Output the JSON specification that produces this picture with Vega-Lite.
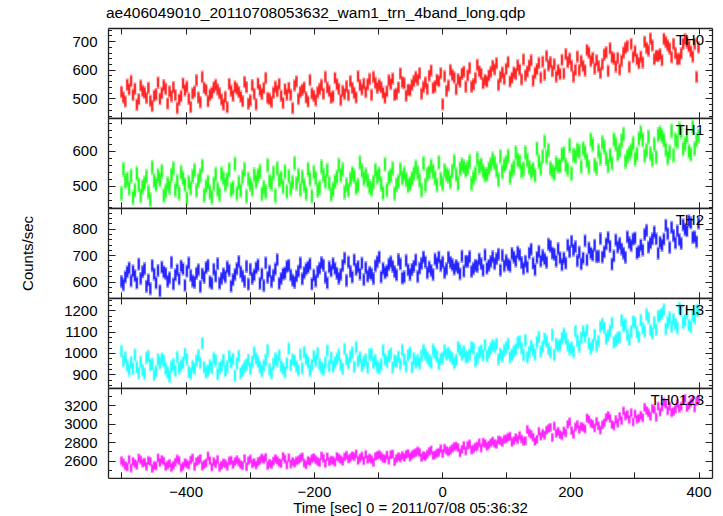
{
"$schema": "https://vega.github.io/schema/vega-lite/v6.json",
"padding": {"left": 20, "top": 6, "right": 5, "bottom": 0},
"spacing": 0,
"bounds": "flush",
"title": {"text": "ae406049010_20110708053632_wam1_trn_4band_long.qdp", "anchor": "start", "fontSize": 15.5, "fontWeight": "normal", "font": "Liberation Sans", "color": "#000", "offset": -11, "baseline": "alphabetic", "dx": 85},
"config": {
  "font": "Liberation Sans",
  "view": {"stroke": null},
  "axis": {"domainColor": "#222", "domainWidth": 1.3, "tickColor": "#222", "tickWidth": 1, "grid": false, "labelFont": "Liberation Sans", "labelFontSize": 15, "labelColor": "#000", "titleFont": "Liberation Sans", "titleFontSize": 15, "titleFontWeight": "normal", "titleColor": "#000", "labelOverlap": false, "labelFlush": false, "labelBound": false},
  "text": {"font": "Liberation Sans", "fontSize": 15, "color": "#000", "align": "right", "baseline": "alphabetic"}
},
"data": {"values": [
{"t":-500,"a":522,"b":478,"c":601,"d":1008,"e":2598},
{"t":-497,"a":503,"b":547,"c":589,"d":962,"e":2575},
{"t":-494,"a":489,"b":511,"c":618,"d":979,"e":2544},
{"t":-491,"a":548,"b":519,"c":637,"d":941,"e":2531},
{"t":-488,"a":531,"b":492,"c":652,"d":918,"e":2612},
{"t":-485,"a":561,"b":528,"c":604,"d":955,"e":2519},
{"t":-482,"a":512,"b":466,"c":641,"d":927,"e":2590},
{"t":-479,"a":534,"b":487,"c":623,"d":991,"e":2568},
{"t":-476,"a":478,"b":535,"c":596,"d":933,"e":2549},
{"t":-473,"a":497,"b":503,"c":666,"d":904,"e":2627},
{"t":-470,"a":545,"b":471,"c":612,"d":958,"e":2606},
{"t":-467,"a":526,"b":497,"c":638,"d":919,"e":2572},
{"t":-464,"a":520,"b":508,"c":649,"d":902,"e":2583},
{"t":-461,"a":501,"b":526,"c":583,"d":977,"e":2537},
{"t":-458,"a":537,"b":482,"c":607,"d":986,"e":2601},
{"t":-455,"a":492,"b":460,"c":574,"d":943,"e":2589},
{"t":-452,"a":473,"b":552,"c":661,"d":948,"e":2515},
{"t":-449,"a":509,"b":514,"c":629,"d":897,"e":2547},
{"t":-446,"a":514,"b":503,"c":596,"d":914,"e":2542},
{"t":-443,"a":555,"b":529,"c":642,"d":969,"e":2628},
{"t":-440,"a":498,"b":517,"c":566,"d":951,"e":2578},
{"t":-437,"a":519,"b":541,"c":655,"d":972,"e":2611},
{"t":-434,"a":546,"b":472,"c":637,"d":961,"e":2594},
{"t":-431,"a":533,"b":485,"c":631,"d":925,"e":2536},
{"t":-428,"a":482,"b":506,"c":602,"d":908,"e":2553},
{"t":-425,"a":524,"b":495,"c":615,"d":889,"e":2569},
{"t":-422,"a":507,"b":530,"c":673,"d":934,"e":2525},
{"t":-419,"a":539,"b":549,"c":592,"d":947,"e":2548},
{"t":-416,"a":511,"b":488,"c":626,"d":916,"e":2583},
{"t":-413,"a":466,"b":512,"c":644,"d":980,"e":2617},
{"t":-410,"a":495,"b":479,"c":611,"d":928,"e":2598},
{"t":-407,"a":508,"b":538,"c":659,"d":941,"e":2521},
{"t":-404,"a":552,"b":521,"c":648,"d":955,"e":2540},
{"t":-401,"a":528,"b":503,"c":587,"d":996,"e":2576},
{"t":-398,"a":541,"b":464,"c":640,"d":970,"e":2562},
{"t":-395,"a":499,"b":509,"c":671,"d":912,"e":2551},
{"t":-392,"a":470,"b":493,"c":624,"d":903,"e":2605},
{"t":-389,"a":517,"b":527,"c":603,"d":937,"e":2629},
{"t":-386,"a":524,"b":544,"c":598,"d":925,"e":2536},
{"t":-383,"a":563,"b":486,"c":632,"d":963,"e":2588},
{"t":-380,"a":503,"b":515,"c":645,"d":988,"e":2603},
{"t":-377,"a":486,"b":529,"c":582,"d":953,"e":2621},
{"t":-374,"a":575,"b":556,"c":629,"d":1045,"e":2541},
{"t":-371,"a":537,"b":473,"c":617,"d":932,"e":2559},
{"t":-368,"a":529,"b":498,"c":653,"d":909,"e":2574},
{"t":-365,"a":490,"b":510,"c":662,"d":917,"e":2650},
{"t":-362,"a":512,"b":481,"c":600,"d":941,"e":2597},
{"t":-359,"a":520,"b":467,"c":594,"d":928,"e":2531},
{"t":-356,"a":538,"b":505,"c":647,"d":975,"e":2587},
{"t":-353,"a":547,"b":533,"c":621,"d":964,"e":2566},
{"t":-350,"a":531,"b":490,"c":668,"d":901,"e":2611},
{"t":-347,"a":518,"b":475,"c":595,"d":929,"e":2527},
{"t":-344,"a":496,"b":534,"c":612,"d":939,"e":2548},
{"t":-341,"a":478,"b":521,"c":630,"d":966,"e":2573},
{"t":-338,"a":505,"b":503,"c":619,"d":915,"e":2565},
{"t":-335,"a":469,"b":517,"c":656,"d":936,"e":2539},
{"t":-332,"a":550,"b":546,"c":643,"d":984,"e":2596},
{"t":-329,"a":527,"b":488,"c":584,"d":957,"e":2604},
{"t":-326,"a":509,"b":494,"c":608,"d":971,"e":2556},
{"t":-323,"a":541,"b":562,"c":627,"d":893,"e":2588},
{"t":-320,"a":533,"b":478,"c":649,"d":950,"e":2610},
{"t":-317,"a":522,"b":509,"c":676,"d":986,"e":2583},
{"t":-314,"a":506,"b":486,"c":637,"d":905,"e":2558},
{"t":-311,"a":490,"b":525,"c":621,"d":918,"e":2545},
{"t":-308,"a":557,"b":547,"c":602,"d":934,"e":2621},
{"t":-305,"a":539,"b":470,"c":658,"d":945,"e":2534},
{"t":-302,"a":481,"b":519,"c":591,"d":967,"e":2597},
{"t":-299,"a":493,"b":504,"c":647,"d":926,"e":2618},
{"t":-296,"a":546,"b":490,"c":613,"d":958,"e":2566},
{"t":-293,"a":515,"b":531,"c":626,"d":1001,"e":2579},
{"t":-290,"a":479,"b":512,"c":652,"d":975,"e":2551},
{"t":-287,"a":552,"b":529,"c":663,"d":959,"e":2587},
{"t":-284,"a":528,"b":541,"c":594,"d":932,"e":2603},
{"t":-281,"a":515,"b":476,"c":629,"d":914,"e":2628},
{"t":-278,"a":536,"b":495,"c":586,"d":940,"e":2612},
{"t":-275,"a":571,"b":482,"c":671,"d":967,"e":2633},
{"t":-272,"a":501,"b":558,"c":617,"d":1012,"e":2546},
{"t":-269,"a":498,"b":513,"c":640,"d":921,"e":2570},
{"t":-266,"a":487,"b":507,"c":601,"d":904,"e":2557},
{"t":-263,"a":520,"b":536,"c":624,"d":948,"e":2594},
{"t":-260,"a":541,"b":471,"c":648,"d":973,"e":2620},
{"t":-257,"a":526,"b":549,"c":683,"d":961,"e":2601},
{"t":-254,"a":550,"b":515,"c":594,"d":988,"e":2579},
{"t":-251,"a":509,"b":522,"c":612,"d":939,"e":2568},
{"t":-248,"a":484,"b":497,"c":629,"d":925,"e":2644},
{"t":-245,"a":532,"b":540,"c":633,"d":910,"e":2617},
{"t":-242,"a":513,"b":483,"c":657,"d":951,"e":2552},
{"t":-239,"a":537,"b":527,"c":662,"d":1020,"e":2631},
{"t":-236,"a":512,"b":492,"c":625,"d":942,"e":2563},
{"t":-233,"a":466,"b":510,"c":606,"d":969,"e":2590},
{"t":-230,"a":545,"b":564,"c":598,"d":962,"e":2572},
{"t":-227,"a":559,"b":506,"c":622,"d":936,"e":2595},
{"t":-224,"a":498,"b":530,"c":640,"d":919,"e":2607},
{"t":-221,"a":522,"b":489,"c":671,"d":993,"e":2626},
{"t":-218,"a":530,"b":525,"c":611,"d":928,"e":2640},
{"t":-215,"a":538,"b":501,"c":634,"d":1004,"e":2574},
{"t":-212,"a":503,"b":478,"c":648,"d":971,"e":2553},
{"t":-209,"a":489,"b":547,"c":655,"d":956,"e":2601},
{"t":-206,"a":564,"b":519,"c":667,"d":917,"e":2589},
{"t":-203,"a":517,"b":470,"c":592,"d":942,"e":2619},
{"t":-200,"a":508,"b":538,"c":625,"d":985,"e":2632},
{"t":-197,"a":493,"b":521,"c":603,"d":963,"e":2610},
{"t":-194,"a":521,"b":487,"c":638,"d":998,"e":2591},
{"t":-191,"a":533,"b":495,"c":651,"d":947,"e":2578},
{"t":-188,"a":547,"b":554,"c":672,"d":929,"e":2651},
{"t":-185,"a":516,"b":529,"c":662,"d":921,"e":2624},
{"t":-182,"a":575,"b":512,"c":617,"d":954,"e":2567},
{"t":-179,"a":538,"b":544,"c":596,"d":1010,"e":2640},
{"t":-176,"a":526,"b":508,"c":656,"d":938,"e":2588},
{"t":-173,"a":502,"b":475,"c":641,"d":977,"e":2605},
{"t":-170,"a":507,"b":490,"c":668,"d":936,"e":2599},
{"t":-167,"a":571,"b":512,"c":650,"d":955,"e":2581},
{"t":-164,"a":549,"b":525,"c":632,"d":972,"e":2645},
{"t":-161,"a":533,"b":559,"c":613,"d":991,"e":2627},
{"t":-158,"a":494,"b":530,"c":627,"d":944,"e":2612},
{"t":-155,"a":526,"b":546,"c":661,"d":925,"e":2593},
{"t":-152,"a":515,"b":481,"c":689,"d":1018,"e":2638},
{"t":-149,"a":542,"b":503,"c":605,"d":969,"e":2657},
{"t":-146,"a":511,"b":488,"c":674,"d":951,"e":2618},
{"t":-143,"a":560,"b":519,"c":639,"d":983,"e":2630},
{"t":-140,"a":536,"b":535,"c":618,"d":1001,"e":2654},
{"t":-137,"a":519,"b":528,"c":682,"d":934,"e":2640},
{"t":-134,"a":503,"b":494,"c":646,"d":1026,"e":2673},
{"t":-131,"a":577,"b":502,"c":657,"d":962,"e":2601},
{"t":-128,"a":546,"b":566,"c":629,"d":979,"e":2627},
{"t":-125,"a":531,"b":543,"c":670,"d":940,"e":2649},
{"t":-122,"a":551,"b":520,"c":608,"d":957,"e":2598},
{"t":-119,"a":522,"b":531,"c":653,"d":968,"e":2667},
{"t":-116,"a":549,"b":514,"c":621,"d":931,"e":2611},
{"t":-113,"a":568,"b":497,"c":635,"d":992,"e":2629},
{"t":-110,"a":512,"b":490,"c":629,"d":992,"e":2611},
{"t":-107,"a":575,"b":510,"c":612,"d":954,"e":2580},
{"t":-104,"a":554,"b":544,"c":660,"d":965,"e":2643},
{"t":-101,"a":537,"b":525,"c":675,"d":936,"e":2656},
{"t":-98,"a":548,"b":533,"c":693,"d":929,"e":2667},
{"t":-95,"a":539,"b":505,"c":618,"d":947,"e":2646},
{"t":-92,"a":520,"b":479,"c":650,"d":1011,"e":2625},
{"t":-89,"a":502,"b":561,"c":634,"d":970,"e":2618},
{"t":-86,"a":525,"b":488,"c":641,"d":958,"e":2659},
{"t":-83,"a":563,"b":522,"c":665,"d":984,"e":2603},
{"t":-80,"a":550,"b":530,"c":675,"d":996,"e":2664},
{"t":-77,"a":569,"b":549,"c":658,"d":931,"e":2671},
{"t":-74,"a":512,"b":478,"c":638,"d":964,"e":2588},
{"t":-71,"a":516,"b":503,"c":626,"d":958,"e":2623},
{"t":-68,"a":538,"b":512,"c":683,"d":982,"e":2642},
{"t":-65,"a":587,"b":546,"c":667,"d":947,"e":2627},
{"t":-62,"a":556,"b":522,"c":614,"d":1014,"e":2655},
{"t":-59,"a":553,"b":535,"c":619,"d":970,"e":2634},
{"t":-56,"a":509,"b":517,"c":680,"d":936,"e":2667},
{"t":-53,"a":530,"b":500,"c":645,"d":988,"e":2676},
{"t":-50,"a":528,"b":506,"c":627,"d":1000,"e":2639},
{"t":-47,"a":547,"b":520,"c":646,"d":932,"e":2661},
{"t":-44,"a":561,"b":534,"c":658,"d":974,"e":2677},
{"t":-41,"a":575,"b":553,"c":682,"d":955,"e":2686},
{"t":-38,"a":564,"b":537,"c":620,"d":966,"e":2703},
{"t":-35,"a":588,"b":515,"c":651,"d":950,"e":2688},
{"t":-32,"a":516,"b":487,"c":669,"d":987,"e":2634},
{"t":-29,"a":540,"b":564,"c":693,"d":1013,"e":2655},
{"t":-26,"a":555,"b":501,"c":674,"d":995,"e":2643},
{"t":-23,"a":533,"b":532,"c":634,"d":978,"e":2670},
{"t":-20,"a":579,"b":538,"c":656,"d":966,"e":2697},
{"t":-17,"a":597,"b":556,"c":642,"d":954,"e":2715},
{"t":-14,"a":536,"b":541,"c":627,"d":1015,"e":2654},
{"t":-11,"a":542,"b":523,"c":685,"d":1000,"e":2662},
{"t":-8,"a":565,"b":502,"c":670,"d":984,"e":2681},
{"t":-5,"a":560,"b":566,"c":693,"d":948,"e":2690},
{"t":-2,"a":588,"b":519,"c":661,"d":971,"e":2728},
{"t":1,"a":479,"b":505,"c":674,"d":977,"e":2676},
{"t":4,"a":577,"b":543,"c":635,"d":1012,"e":2733},
{"t":7,"a":526,"b":532,"c":649,"d":993,"e":2709},
{"t":10,"a":545,"b":527,"c":692,"d":1000,"e":2694},
{"t":13,"a":599,"b":511,"c":673,"d":985,"e":2712},
{"t":16,"a":582,"b":542,"c":664,"d":973,"e":2730},
{"t":19,"a":573,"b":569,"c":648,"d":952,"e":2749},
{"t":22,"a":532,"b":532,"c":661,"d":967,"e":2757},
{"t":25,"a":567,"b":506,"c":652,"d":1026,"e":2740},
{"t":28,"a":558,"b":548,"c":630,"d":1014,"e":2683},
{"t":31,"a":586,"b":560,"c":696,"d":992,"e":2721},
{"t":34,"a":593,"b":554,"c":640,"d":1008,"e":2764},
{"t":37,"a":541,"b":543,"c":677,"d":981,"e":2703},
{"t":40,"a":580,"b":551,"c":676,"d":983,"e":2764},
{"t":43,"a":606,"b":568,"c":694,"d":992,"e":2780},
{"t":46,"a":541,"b":506,"c":639,"d":1026,"e":2715},
{"t":49,"a":549,"b":523,"c":650,"d":1019,"e":2726},
{"t":52,"a":571,"b":535,"c":662,"d":962,"e":2748},
{"t":55,"a":617,"b":577,"c":658,"d":975,"e":2757},
{"t":58,"a":595,"b":553,"c":685,"d":1001,"e":2793},
{"t":61,"a":586,"b":560,"c":668,"d":1010,"e":2737},
{"t":64,"a":553,"b":542,"c":643,"d":988,"e":2799},
{"t":67,"a":564,"b":531,"c":701,"d":1037,"e":2785},
{"t":70,"a":559,"b":532,"c":651,"d":985,"e":2755},
{"t":73,"a":580,"b":548,"c":662,"d":1002,"e":2770},
{"t":76,"a":592,"b":561,"c":676,"d":1021,"e":2792},
{"t":79,"a":614,"b":576,"c":694,"d":1036,"e":2811},
{"t":82,"a":601,"b":565,"c":668,"d":1027,"e":2784},
{"t":85,"a":623,"b":543,"c":687,"d":1042,"e":2777},
{"t":88,"a":547,"b":517,"c":703,"d":970,"e":2823},
{"t":91,"a":575,"b":583,"c":644,"d":995,"e":2815},
{"t":94,"a":590,"b":540,"c":699,"d":983,"e":2798},
{"t":97,"a":568,"b":559,"c":660,"d":1011,"e":2831},
{"t":100,"a":603,"b":566,"c":680,"d":1025,"e":2835},
{"t":103,"a":627,"b":585,"c":665,"d":1042,"e":2854},
{"t":106,"a":559,"b":524,"c":659,"d":979,"e":2863},
{"t":109,"a":572,"b":543,"c":706,"d":991,"e":2798},
{"t":112,"a":590,"b":553,"c":693,"d":1006,"e":2816},
{"t":115,"a":585,"b":594,"c":678,"d":1017,"e":2849},
{"t":118,"a":616,"b":573,"c":711,"d":1048,"e":2825},
{"t":121,"a":600,"b":569,"c":701,"d":1053,"e":2871},
{"t":124,"a":566,"b":541,"c":672,"d":1022,"e":2833},
{"t":127,"a":636,"b":548,"c":650,"d":989,"e":2810},
{"t":130,"a":580,"b":594,"c":677,"d":1059,"e":2815},
{"t":133,"a":594,"b":572,"c":656,"d":980,"e":2938},
{"t":136,"a":615,"b":552,"c":708,"d":1004,"e":2900},
{"t":139,"a":633,"b":539,"c":722,"d":1033,"e":2882},
{"t":142,"a":562,"b":547,"c":670,"d":1012,"e":2852},
{"t":145,"a":589,"b":530,"c":645,"d":993,"e":2808},
{"t":148,"a":602,"b":605,"c":691,"d":1051,"e":2830},
{"t":151,"a":624,"b":569,"c":714,"d":1074,"e":2915},
{"t":154,"a":573,"b":549,"c":678,"d":1006,"e":2865},
{"t":157,"a":628,"b":583,"c":699,"d":1028,"e":2895},
{"t":160,"a":583,"b":625,"c":686,"d":1066,"e":2875},
{"t":163,"a":648,"b":582,"c":673,"d":1054,"e":2930},
{"t":166,"a":615,"b":601,"c":741,"d":1019,"e":2948},
{"t":169,"a":626,"b":550,"c":733,"d":1003,"e":2960},
{"t":172,"a":595,"b":542,"c":708,"d":1085,"e":2850},
{"t":175,"a":619,"b":535,"c":703,"d":990,"e":2975},
{"t":178,"a":576,"b":564,"c":678,"d":1043,"e":2895},
{"t":181,"a":599,"b":556,"c":724,"d":1032,"e":2917},
{"t":184,"a":585,"b":557,"c":690,"d":1038,"e":2882},
{"t":187,"a":634,"b":588,"c":664,"d":1070,"e":2868},
{"t":190,"a":587,"b":591,"c":689,"d":1090,"e":2920},
{"t":193,"a":654,"b":558,"c":670,"d":1068,"e":2898},
{"t":196,"a":626,"b":547,"c":738,"d":1035,"e":2992},
{"t":199,"a":639,"b":615,"c":713,"d":1017,"e":3020},
{"t":202,"a":613,"b":535,"c":752,"d":1024,"e":2925},
{"t":205,"a":576,"b":587,"c":719,"d":1005,"e":2885},
{"t":208,"a":600,"b":583,"c":732,"d":1102,"e":2965},
{"t":211,"a":646,"b":602,"c":679,"d":1057,"e":2988},
{"t":214,"a":598,"b":597,"c":711,"d":1031,"e":2937},
{"t":217,"a":631,"b":555,"c":667,"d":1071,"e":2970},
{"t":220,"a":613,"b":606,"c":689,"d":1101,"e":2962},
{"t":223,"a":597,"b":595,"c":754,"d":1076,"e":2943},
{"t":226,"a":669,"b":572,"c":682,"d":1106,"e":3062},
{"t":229,"a":660,"b":553,"c":727,"d":1044,"e":3045},
{"t":232,"a":631,"b":631,"c":708,"d":1021,"e":3008},
{"t":235,"a":642,"b":617,"c":700,"d":1038,"e":2995},
{"t":238,"a":604,"b":559,"c":737,"d":1084,"e":2954},
{"t":241,"a":633,"b":550,"c":695,"d":1032,"e":3023},
{"t":244,"a":612,"b":599,"c":696,"d":1055,"e":2976},
{"t":247,"a":589,"b":578,"c":762,"d":1123,"e":2932},
{"t":250,"a":619,"b":623,"c":693,"d":1136,"e":2986},
{"t":253,"a":653,"b":611,"c":712,"d":1118,"e":3010},
{"t":256,"a":661,"b":578,"c":742,"d":1068,"e":3066},
{"t":259,"a":596,"b":556,"c":766,"d":1081,"e":3090},
{"t":262,"a":675,"b":587,"c":733,"d":1104,"e":3058},
{"t":265,"a":644,"b":565,"c":666,"d":1140,"e":2992},
{"t":268,"a":639,"b":632,"c":697,"d":1050,"e":2975},
{"t":271,"a":611,"b":618,"c":757,"d":1059,"e":3042},
{"t":274,"a":641,"b":590,"c":730,"d":1071,"e":3004},
{"t":277,"a":601,"b":600,"c":744,"d":1073,"e":3077},
{"t":280,"a":632,"b":628,"c":723,"d":1153,"e":3035},
{"t":283,"a":660,"b":647,"c":707,"d":1127,"e":3138},
{"t":286,"a":676,"b":569,"c":692,"d":1134,"e":3083},
{"t":289,"a":683,"b":583,"c":769,"d":1084,"e":3100},
{"t":292,"a":610,"b":592,"c":747,"d":1062,"e":3044},
{"t":295,"a":690,"b":600,"c":736,"d":1100,"e":3119},
{"t":298,"a":645,"b":621,"c":760,"d":1147,"e":3018},
{"t":301,"a":665,"b":576,"c":764,"d":1141,"e":3105},
{"t":304,"a":636,"b":590,"c":708,"d":1097,"e":3048},
{"t":307,"a":623,"b":634,"c":714,"d":1075,"e":3060},
{"t":310,"a":646,"b":652,"c":738,"d":1154,"e":3092},
{"t":313,"a":625,"b":631,"c":719,"d":1116,"e":3064},
{"t":316,"a":698,"b":586,"c":778,"d":1101,"e":3177},
{"t":319,"a":676,"b":601,"c":793,"d":1181,"e":3143},
{"t":322,"a":667,"b":639,"c":730,"d":1164,"e":3117},
{"t":325,"a":709,"b":592,"c":746,"d":1108,"e":3080},
{"t":328,"a":685,"b":574,"c":761,"d":1092,"e":3165},
{"t":331,"a":637,"b":618,"c":787,"d":1143,"e":3152},
{"t":334,"a":649,"b":582,"c":761,"d":1109,"e":3070},
{"t":337,"a":648,"b":645,"c":707,"d":1172,"e":3190},
{"t":340,"a":654,"b":651,"c":748,"d":1177,"e":3125},
{"t":343,"a":633,"b":642,"c":737,"d":1185,"e":3180},
{"t":346,"a":708,"b":630,"c":760,"d":1203,"e":3232},
{"t":349,"a":697,"b":604,"c":812,"d":1112,"e":3208},
{"t":352,"a":685,"b":579,"c":780,"d":1143,"e":3140},
{"t":355,"a":674,"b":596,"c":729,"d":1166,"e":3190},
{"t":358,"a":644,"b":656,"c":804,"d":1124,"e":3118},
{"t":361,"a":690,"b":587,"c":773,"d":1158,"e":3134},
{"t":364,"a":658,"b":630,"c":746,"d":1135,"e":3158},
{"t":367,"a":637,"b":625,"c":791,"d":1117,"e":3215},
{"t":370,"a":638,"b":662,"c":758,"d":1210,"e":3165},
{"t":373,"a":657,"b":653,"c":744,"d":1199,"e":3190},
{"t":376,"a":691,"b":605,"c":814,"d":1140,"e":3248},
{"t":379,"a":707,"b":619,"c":796,"d":1153,"e":3273},
{"t":382,"a":695,"b":641,"c":792,"d":1187,"e":3175},
{"t":385,"a":682,"b":598,"c":829,"d":1130,"e":3197},
{"t":388,"a":664,"b":590,"c":821,"d":1122,"e":3227},
{"t":391,"a":646,"b":667,"c":767,"d":1175,"e":3262},
{"t":394,"a":690,"b":605,"c":769,"d":1163,"e":3170},
{"t":397,"a":575,"b":630,"c":750,"d":1201,"e":3243},
{"t":400,"a":678,"b":641,"c":820,"d":1198,"e":3262}
]},
"vconcat": [
{
  "width": 604, "height": 89.8,
  "resolve": {"axis": {"x": "independent", "y": "independent"}},
  "layer": [
    {"mark": {"type": "tick", "orient": "vertical", "size": 12.6, "thickness": 3, "color": "#ff0000", "opacity": 0.42, "clip": true},
     "encoding": {
       "x": {"field": "t", "type": "quantitative", "scale": {"domain": [-521, 421], "nice": false, "zero": false}, "axis": {"orient": "bottom", "values": [-500,-400,-300,-200,-100,0,100,200,300,400], "labels": false, "tickSize": -6, "title": null}},
       "y": {"field": "a", "type": "quantitative", "scale": {"domain": [432, 746], "nice": false, "zero": false}, "axis": {"orient": "left", "format": "d", "values": [440,460,480,500,520,540,560,580,600,620,640,660,680,700,720,740], "labelExpr": "datum.value % 100 == 0 ? datum.label : ''", "tickSize": {"condition": {"test": "datum.value % 100 == 0", "value": -7}, "value": -3.5}, "labelPadding": 18, "title": null}}
     }},
    {"mark": {"type": "tick", "orient": "vertical", "size": 9.5, "thickness": 1.9, "color": "#ff0000", "clip": true},
     "encoding": {
       "x": {"field": "t", "type": "quantitative", "scale": {"domain": [-521, 421], "nice": false, "zero": false}, "axis": {"orient": "top", "values": [-500,-400,-300,-200,-100,0,100,200,300,400], "labels": false, "tickSize": -6, "title": null}},
       "y": {"field": "a", "type": "quantitative", "scale": {"domain": [432, 746], "nice": false, "zero": false}, "axis": {"orient": "right", "values": [440,460,480,500,520,540,560,580,600,620,640,660,680,700,720,740], "labels": false, "tickSize": {"condition": {"test": "datum.value % 100 == 0", "value": -7}, "value": -3.5}, "title": null}}
     }},
    {"data": {"values": [{"label": "TH0"}]},
     "mark": {"type": "text"},
     "encoding": {
       "x": {"datum": 408.5, "type": "quantitative", "axis": null},
       "y": {"datum": 688, "type": "quantitative", "axis": null},
       "text": {"field": "label", "type": "nominal"}
     }}
  ]
},
{
  "width": 604, "height": 89.8,
  "resolve": {"axis": {"x": "independent", "y": "independent"}},
  "layer": [
    {"mark": {"type": "tick", "orient": "vertical", "size": 15.5, "thickness": 3, "color": "#00ff00", "opacity": 0.42, "clip": true},
     "encoding": {
       "x": {"field": "t", "type": "quantitative", "scale": {"domain": [-521, 421], "nice": false, "zero": false}, "axis": {"orient": "bottom", "values": [-500,-400,-300,-200,-100,0,100,200,300,400], "labels": false, "tickSize": -6, "title": null}},
       "y": {"field": "b", "type": "quantitative", "scale": {"domain": [437, 693], "nice": false, "zero": false}, "axis": {"orient": "left", "format": "d", "values": [440,460,480,500,520,540,560,580,600,620,640,660,680], "labelExpr": "datum.value % 100 == 0 ? datum.label : ''", "tickSize": {"condition": {"test": "datum.value % 100 == 0", "value": -7}, "value": -3.5}, "labelPadding": 18, "title": null}}
     }},
    {"mark": {"type": "tick", "orient": "vertical", "size": 11.5, "thickness": 1.9, "color": "#00ff00", "clip": true},
     "encoding": {
       "x": {"field": "t", "type": "quantitative", "scale": {"domain": [-521, 421], "nice": false, "zero": false}, "axis": {"orient": "top", "values": [-500,-400,-300,-200,-100,0,100,200,300,400], "labels": false, "tickSize": -6, "title": null}},
       "y": {"field": "b", "type": "quantitative", "scale": {"domain": [437, 693], "nice": false, "zero": false}, "axis": {"orient": "right", "values": [440,460,480,500,520,540,560,580,600,620,640,660,680], "labels": false, "tickSize": {"condition": {"test": "datum.value % 100 == 0", "value": -7}, "value": -3.5}, "title": null}}
     }},
    {"data": {"values": [{"label": "TH1"}]},
     "mark": {"type": "text"},
     "encoding": {
       "x": {"datum": 408.5, "type": "quantitative", "axis": null},
       "y": {"datum": 645, "type": "quantitative", "axis": null},
       "text": {"field": "label", "type": "nominal"}
     }}
  ]
},
{
  "width": 604, "height": 89.8,
  "resolve": {"axis": {"x": "independent", "y": "independent"}},
  "layer": [
    {"mark": {"type": "tick", "orient": "vertical", "size": 13.3, "thickness": 3, "color": "#0000ff", "opacity": 0.42, "clip": true},
     "encoding": {
       "x": {"field": "t", "type": "quantitative", "scale": {"domain": [-521, 421], "nice": false, "zero": false}, "axis": {"orient": "bottom", "values": [-500,-400,-300,-200,-100,0,100,200,300,400], "labels": false, "tickSize": -6, "title": null}},
       "y": {"field": "c", "type": "quantitative", "scale": {"domain": [540, 877], "nice": false, "zero": false}, "axis": {"orient": "left", "format": "d", "values": [540,560,580,600,620,640,660,680,700,720,740,760,780,800,820,840,860], "labelExpr": "datum.value % 100 == 0 ? datum.label : ''", "tickSize": {"condition": {"test": "datum.value % 100 == 0", "value": -7}, "value": -3.5}, "labelPadding": 18, "title": "Counts/sec", "titlePadding": 36}}
     }},
    {"mark": {"type": "tick", "orient": "vertical", "size": 10, "thickness": 1.9, "color": "#0000ff", "clip": true},
     "encoding": {
       "x": {"field": "t", "type": "quantitative", "scale": {"domain": [-521, 421], "nice": false, "zero": false}, "axis": {"orient": "top", "values": [-500,-400,-300,-200,-100,0,100,200,300,400], "labels": false, "tickSize": -6, "title": null}},
       "y": {"field": "c", "type": "quantitative", "scale": {"domain": [540, 877], "nice": false, "zero": false}, "axis": {"orient": "right", "values": [540,560,580,600,620,640,660,680,700,720,740,760,780,800,820,840,860], "labels": false, "tickSize": {"condition": {"test": "datum.value % 100 == 0", "value": -7}, "value": -3.5}, "title": null}}
     }},
    {"data": {"values": [{"label": "TH2"}]},
     "mark": {"type": "text"},
     "encoding": {
       "x": {"datum": 408.5, "type": "quantitative", "axis": null},
       "y": {"datum": 815, "type": "quantitative", "axis": null},
       "text": {"field": "label", "type": "nominal"}
     }}
  ]
},
{
  "width": 604, "height": 89.8,
  "resolve": {"axis": {"x": "independent", "y": "independent"}},
  "layer": [
    {"mark": {"type": "tick", "orient": "vertical", "size": 13.2, "thickness": 3, "color": "#00ffff", "opacity": 0.42, "clip": true},
     "encoding": {
       "x": {"field": "t", "type": "quantitative", "scale": {"domain": [-521, 421], "nice": false, "zero": false}, "axis": {"orient": "bottom", "values": [-500,-400,-300,-200,-100,0,100,200,300,400], "labels": false, "tickSize": -6, "title": null}},
       "y": {"field": "d", "type": "quantitative", "scale": {"domain": [836, 1258], "nice": false, "zero": false}, "axis": {"orient": "left", "format": "d", "values": [850,875,900,925,950,975,1000,1025,1050,1075,1100,1125,1150,1175,1200,1225,1250], "labelExpr": "datum.value % 100 == 0 ? datum.label : ''", "tickSize": {"condition": {"test": "datum.value % 100 == 0", "value": -7}, "value": -3.5}, "labelPadding": 18, "title": null}}
     }},
    {"mark": {"type": "tick", "orient": "vertical", "size": 10, "thickness": 1.9, "color": "#00ffff", "clip": true},
     "encoding": {
       "x": {"field": "t", "type": "quantitative", "scale": {"domain": [-521, 421], "nice": false, "zero": false}, "axis": {"orient": "top", "values": [-500,-400,-300,-200,-100,0,100,200,300,400], "labels": false, "tickSize": -6, "title": null}},
       "y": {"field": "d", "type": "quantitative", "scale": {"domain": [836, 1258], "nice": false, "zero": false}, "axis": {"orient": "right", "values": [850,875,900,925,950,975,1000,1025,1050,1075,1100,1125,1150,1175,1200,1225,1250], "labels": false, "tickSize": {"condition": {"test": "datum.value % 100 == 0", "value": -7}, "value": -3.5}, "title": null}}
     }},
    {"data": {"values": [{"label": "TH3"}]},
     "mark": {"type": "text"},
     "encoding": {
       "x": {"datum": 408.5, "type": "quantitative", "axis": null},
       "y": {"datum": 1180, "type": "quantitative", "axis": null},
       "text": {"field": "label", "type": "nominal"}
     }}
  ]
},
{
  "width": 604, "height": 89.8,
  "resolve": {"axis": {"x": "independent", "y": "independent"}},
  "layer": [
    {"mark": {"type": "tick", "orient": "vertical", "size": 9.4, "thickness": 3, "color": "#ff00ff", "opacity": 0.42, "clip": true},
     "encoding": {
       "x": {"field": "t", "type": "quantitative", "scale": {"domain": [-521, 421], "nice": false, "zero": false}, "axis": {"orient": "bottom", "values": [-500,-400,-300,-200,-100,0,100,200,300,400], "labelExpr": "datum.value % 200 == 0 ? datum.label : ''", "tickSize": -6, "labelPadding": 13, "title": "Time [sec] 0 = 2011/07/08 05:36:32", "titlePadding": 1}},
       "y": {"field": "e", "type": "quantitative", "scale": {"domain": [2413, 3387], "nice": false, "zero": false}, "axis": {"orient": "left", "format": "d", "values": [2500,2600,2700,2800,2900,3000,3100,3200,3300], "labelExpr": "datum.value % 200 == 0 ? datum.label : ''", "tickSize": {"condition": {"test": "datum.value % 200 == 0", "value": -7}, "value": -3.5}, "labelPadding": 18, "title": null}}
     }},
    {"mark": {"type": "tick", "orient": "vertical", "size": 7, "thickness": 1.9, "color": "#ff00ff", "clip": true},
     "encoding": {
       "x": {"field": "t", "type": "quantitative", "scale": {"domain": [-521, 421], "nice": false, "zero": false}, "axis": {"orient": "top", "values": [-500,-400,-300,-200,-100,0,100,200,300,400], "labels": false, "tickSize": -6, "title": null}},
       "y": {"field": "e", "type": "quantitative", "scale": {"domain": [2413, 3387], "nice": false, "zero": false}, "axis": {"orient": "right", "values": [2500,2600,2700,2800,2900,3000,3100,3200,3300], "labels": false, "tickSize": {"condition": {"test": "datum.value % 200 == 0", "value": -7}, "value": -3.5}, "title": null}}
     }},
    {"data": {"values": [{"label": "TH0123"}]},
     "mark": {"type": "text"},
     "encoding": {
       "x": {"datum": 408.5, "type": "quantitative", "axis": null},
       "y": {"datum": 3208, "type": "quantitative", "axis": null},
       "text": {"field": "label", "type": "nominal"}
     }}
  ]
}
]
}
